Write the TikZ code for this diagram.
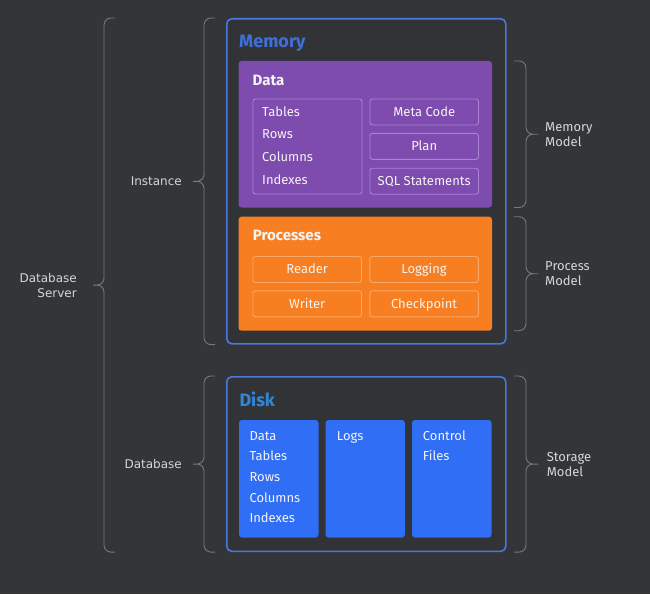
\documentclass[tikz,border=0pt]{standalone}
\usepackage{fontspec}
\setmainfont{Fira Sans}
\newfontfamily\sidefont{DejaVu Sans}
\usetikzlibrary{positioning,calc,decorations.pathreplacing}

\definecolor{bgdark}{HTML}{333539}
\definecolor{framebg}{HTML}{313337}
\definecolor{frameblue}{HTML}{4A78DC}
\definecolor{memtitle}{HTML}{3F6FDA}
\definecolor{disktitle}{HTML}{2E88DA}
\definecolor{datapurple}{HTML}{7E4BAF}
\definecolor{dataline}{HTML}{A884D2}
\definecolor{procorange}{HTML}{F77F21}
\definecolor{procline}{HTML}{FBA767}
\definecolor{diskblue}{HTML}{2F6EF5}
\definecolor{bracegray}{HTML}{77797D}
\definecolor{labelgray}{HTML}{D6D6D6}
\definecolor{textwhite}{HTML}{F4F4F4}

\tikzset{
  frame/.style={draw=frameblue, line width=1.6pt, rounded corners=5pt, fill=framebg,
    anchor=north west, inner sep=0pt},
  panel/.style={rounded corners=3pt, anchor=north west, inner sep=0pt, outer sep=0pt},
  cell/.style={draw, line width=0.9pt, rounded corners=2.5pt, anchor=north west,
    inner sep=0pt, minimum width=108.5pt, minimum height=26pt, text=textwhite,
    font=\fontsize{13}{15}\selectfont, text height=9pt, text depth=0pt},
  title/.style={anchor=base west, inner sep=0pt, font=\fontsize{18}{20}\selectfont\bfseries},
  subtitle/.style={anchor=base west, inner sep=0pt, text=textwhite,
    font=\fontsize{15}{17}\selectfont\bfseries},
  item/.style={anchor=base west, inner sep=0pt, text=textwhite,
    font=\fontsize{13}{15}\selectfont},
  lside/.style={inner sep=0pt, text=labelgray, font=\sidefont\fontsize{12}{15}\selectfont},
  rside/.style={inner sep=0pt, text=labelgray, align=left, font=\fontsize{13}{15}\selectfont},
  brc/.style={draw=bracegray, line width=0.9pt, rounded corners=7pt},
  % #1 = signed offset of the brace line from its ends
  brace/.style={to path={
    let \p1=(\tikztostart), \p2=(\tikztotarget), \p3=($(\p1)!0.5!(\p2)$) in
    (\p1) -- ++(#1pt,0) -- (\x1+#1pt,\y3) -- (\x1+2*#1pt,\y3)
    (\p2) -- ++(#1pt,0) -- (\x2+#1pt,\y3) -- (\x1+2*#1pt,\y3)}},
}

\begin{document}
\begin{tikzpicture}[x=1pt,y=1pt]
\fill[bgdark] (0,0) rectangle (650,-594);
\useasboundingbox (0,0) rectangle (650,-594);

% instance
\node[frame, minimum width=279pt, minimum height=325pt] (mem) at (226,-18) {};
\node[title, text=memtitle] (memtitle) at (239,-47.9) {Memory};

\node[panel, fill=datapurple, minimum width=253.5pt, minimum height=146.5pt] (data) at (238.5,-61) {};
\node[subtitle] (datatitle) at (252.5,-85.9) {Data};
\node[cell, draw=dataline, minimum width=109pt, minimum height=95pt] (tabbox) at (252.5,-98.5) {};
\foreach \t [count=\i] in {Tables,Rows,Columns,Indexes}
  \node[item] (tab\i) at (262,-116.2-22.6*\i+22.6) {\t};
\node[cell, draw=dataline] (meta) at (369.5,-98.5) {Meta Code};
\node[cell, draw=dataline, below=7.5pt of meta] (plan) {Plan};
\node[cell, draw=dataline, below=8pt of plan] (sql) {SQL Statements};

\node[panel, fill=procorange, minimum width=253.5pt, minimum height=114pt] (proc) at (238.5,-216.7) {};
\node[subtitle] (proctitle) at (252.7,-240.9) {Processes};
\node[cell, draw=procline] (reader) at (252.5,-256) {Reader};
\node[cell, draw=procline, right=7.5pt of reader] (logging) {Logging};
\node[cell, draw=procline, below=7.5pt of reader] (writer) {Writer};
\node[cell, draw=procline, right=7.5pt of writer] (checkpt) {Checkpoint};

% database
\node[frame, minimum width=279pt, minimum height=174.5pt] (disk) at (226,-376) {};
\node[title, text=disktitle] (disktitle) at (239.3,-406.2) {Disk};
\node[panel, fill=diskblue, minimum width=79.5pt, minimum height=117.5pt] (dcol) at (239,-420) {};
\node[panel, fill=diskblue, minimum width=79.5pt, minimum height=117.5pt, right=7pt of dcol] (lcol) {};
\node[panel, fill=diskblue, minimum width=79.5pt, minimum height=117.5pt, right=7pt of lcol] (ccol) {};
\foreach \t [count=\i] in {Data,Tables,Rows,Columns,Indexes}
  \node[item] (disk\i) at (249.3,-440.2-20.6*\i+20.6) {\t};
\node[item] (logs) at (336.7,-440.2) {Logs};
\node[item] (ctrl1) at (422.7,-440.2) {Control};
\node[item] (ctrl2) at (422.7,-460.8) {Files};

% braces
\coordinate (lx) at (215,0);
\coordinate (sx) at (115,0);
\coordinate (rx) at (514,0);
\draw[brc] (mem.north west -| lx) to[brace=-11] (mem.south west -| lx);
\draw[brc] (disk.north west -| lx) to[brace=-11] (disk.south west -| lx);
\draw[brc] (mem.north west -| sx) to[brace=-11] (disk.south west -| sx);
\draw[brc] (data.north east -| rx) to[brace=12] (data.south east -| rx);
\draw[brc] (proc.north east -| rx) to[brace=12] (proc.south east -| rx);
\draw[brc] (disk.north east -| rx) to[brace=12] (disk.south east -| rx);

\node[lside, left=44pt of mem.west] (inst) {Instance};
\node[lside, left=44pt of disk.west] (dbase) {Database};
\coordinate (svmid) at ($(mem.north west)!0.5!(disk.south west)$);
\node[lside, align=right, left=149pt of svmid] (server) {Database\\Server};
\node[rside, right=53pt of data.east] (memmodel) {Memory\\Model};
\node[rside, right=53pt of proc.east] (procmodel) {Process\\Model};
\node[rside, right=40pt of disk.east] (stormodel) {Storage\\Model};
\end{tikzpicture}
\end{document}
